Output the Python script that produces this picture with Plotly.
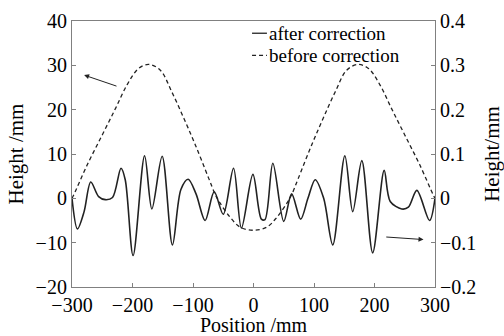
import plotly.graph_objects as go

# after correction (right axis units)
after_x = [-300, -291, -280, -269, -256, -245, -233, -219, -212, -199, -180, -168, -151, -134, -120, -108, -95, -80,
           -65, -50, -33, -20, -1, 13, 19, 32, 50, 63, 78, 90, 102, 116, 131, 151, 164, 179, 197, 216, 226, 245, 256,
           270, 291, 300]
after_y = [0.0, -0.069, -0.03, 0.037, 0.004, -0.003, 0.002, 0.068, 0.042, -0.129, 0.096, -0.024, 0.095, -0.105,
           0.02, 0.043, 0.01, -0.05, 0.015, -0.036, 0.068, -0.067, 0.054, -0.047, -0.048, 0.079, -0.052, 0.01, -0.047,
           0.0, 0.042, 0.0, -0.105, 0.096, -0.03, 0.085, -0.123, 0.063, -0.007, -0.024, -0.02, 0.018, -0.05, 0.0]

# before correction (left axis units)
before_x = [-300, -297, -275, -250, -228, -209, -190, -173, -154, -135, -115, -96, -74, -63, -56, -39, -22, 0,
            22, 39, 56, 63, 74, 96, 115, 135, 154, 173, 190, 209, 228, 250, 275, 297, 300]
before_y = [0, 0.8, 7.5, 14.3, 20.3, 25.6, 29.3, 30.2, 28.9, 24, 18, 12, 4.5, 0.8, -0.9, -4.2, -6.5, -7.2,
            -6.5, -4.2, -0.9, 0.8, 4.5, 12, 18, 24, 28.9, 30.2, 29.3, 25.6, 20.3, 14.3, 7.5, 0.8, 0]

x_ticks = [-300, -200, -100, 0, 100, 200, 300]
y_ticks = [-20, -10, 0, 10, 20, 30, 40]
y2_ticks = [-0.2, -0.1, 0, 0.1, 0.2, 0.3, 0.4]
y2_labels = ["\u22120.2", "\u22120.1", "0", "0.1", "0.2", "0.3", "0.4"]

FONT = "Liberation Serif"
FS = 20
TFS = 21
LFS = 19
AX = "#808080"
DASH = "4px,3px"

fig = go.Figure()
fig.add_trace(go.Scatter(x=before_x, y=before_y, mode="lines", line=dict(color="#222", width=1.3, dash=DASH, shape="spline"),
                         showlegend=False, yaxis="y"))
fig.add_trace(go.Scatter(x=after_x, y=after_y, mode="lines", line=dict(color="#222", width=1.6, shape="spline", smoothing=0.9),
                         showlegend=False, yaxis="y2"))

common = dict(showgrid=False, zeroline=False, showline=True, linecolor=AX, linewidth=1.2, automargin=False,
              ticks="inside", ticklen=4, tickcolor=AX, tickfont=dict(family=FONT, size=FS, color="black"))
fig.update_layout(
    width=504, height=336, margin=dict(l=72, r=69, t=21, b=49),
    paper_bgcolor="white", plot_bgcolor="white",
    font=dict(family=FONT, size=FS, color="black"),
    xaxis=dict(range=[-300, 300], tickvals=x_ticks, ticktext=[str(v).replace("-", "\u2212") for v in x_ticks],
               mirror=True, ticklabelstandoff=0,
               title=dict(text="Position /mm", font=dict(family=FONT, size=20), standoff=7), **common),
    yaxis=dict(range=[-20, 40], tickvals=y_ticks, ticktext=[str(v).replace("-", "\u2212") for v in y_ticks],
               title=dict(text="Height /mm", font=dict(family=FONT, size=TFS), standoff=6), **common),
    yaxis2=dict(range=[-0.2, 0.4], tickvals=y2_ticks, ticktext=y2_labels, overlaying="y", side="right",
                title=dict(text="Height/mm", font=dict(family=FONT, size=TFS), standoff=10), **common),
)

# manual legend
legend_rows = [("after correction", "solid", 0.954), ("before correction", DASH, 0.871)]
for label, dash, yy in legend_rows:
    fig.add_shape(type="line", xref="paper", yref="paper", x0=0.496, x1=0.537, y0=yy, y1=yy,
                  line=dict(color="#222", width=1.3, dash=dash))
    fig.add_annotation(xref="paper", yref="paper", x=0.538, y=yy, text=label, showarrow=False,
                       xanchor="left", yanchor="middle", font=dict(family=FONT, size=LFS, color="black"))

# arrows
fig.add_annotation(x=-280, y=27.8, ax=-224, ay=25.2, xref="x", yref="y", axref="x", ayref="y",
                   showarrow=True, arrowhead=2, arrowsize=1, arrowwidth=1, arrowcolor="#222", text="")
fig.add_annotation(x=281, y=-0.093, ax=217, ay=-0.087, xref="x", yref="y2", axref="x", ayref="y2",
                   showarrow=True, arrowhead=2, arrowsize=1, arrowwidth=1, arrowcolor="#222", text="")

fig.write_html("out.html")
